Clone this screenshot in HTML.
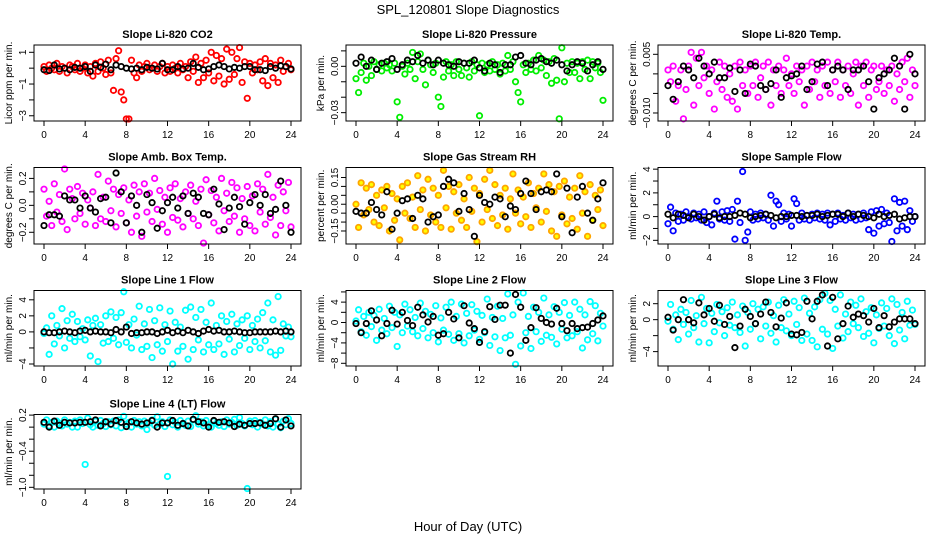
<!DOCTYPE html>
<html><head><meta charset="utf-8"><style>
html,body{margin:0;padding:0;background:#fff;}
svg{display:block;font-family:"Liberation Sans",sans-serif;}
</style></head><body>
<svg id="chart" width="936" height="540" viewBox="0 0 936 540" xmlns="http://www.w3.org/2000/svg">
<text x="468" y="14" text-anchor="middle" font-size="13">SPL_120801  Slope Diagnostics</text>
<text x="468" y="531" text-anchor="middle" font-size="13">Hour of Day (UTC)</text>
</svg>
<script>
const xTicks = [0,4,8,12,16,20,24];
const titles = ["Slope Li-820 CO2","Slope Li-820 Pressure","Slope Li-820 Temp.","Slope Amb. Box Temp.","Slope Gas Stream RH","Slope Sample Flow","Slope Line 1 Flow","Slope Line 2 Flow","Slope Line 3 Flow","Slope Line 4 (LT) Flow"];
const yTitles = ["Licor ppm per min.","kPa per min.","degrees C per min.","degrees C per min.","percent per min.","ml/min per min.","ml/min per min.","ml/min per min.","ml/min per min.","ml/min per min."];
const yRanges = [[-3.33,1.46],[-0.0354,0.0138],[-0.01205,0.00738],[-0.287,0.281],[-0.223,0.206],[-2.31,4.14],[-4.25,5.16],[-8.53,6.28],[-5.8,3.65],[-1.028,0.21]];
const yTicks = [[-3,-2,-1,0,1],[-0.03,-0.02,-0.01,0,0.01],[-0.01,-0.005,0,0.005],[-0.2,-0.1,0,0.1,0.2],[-0.15,-0.1,-0.05,0,0.05,0.1,0.15],[-2,-1,0,1,2,3,4],[-4,-2,0,2,4],[-8,-6,-4,-2,0,2,4,6],[-4,-2,0,2],[-1,-0.8,-0.6,-0.4,-0.2,0,0.2]];
const yTickLabels = [["−3","","−1","","1"],["−0.03","","","0.00",""],["−0.010","","","0.005"],["−0.2","","0.0","","0.2"],["−0.15","","","0.00","","","0.15"],["−2","","0","","2","","4"],["−4","","0","2","4"],["−8","","−4","","0","","4",""],["−4","","0","2"],["−1.0","","","−0.4","","","0.2"]];
const colors = ["#ff0000","#00ee00","#ff00ff","#ff00ff","#ffa500","#0000ff","#00ffff","#00ffff","#00ffff","#00ffff"];

const co2Main = [0.1,-0.2,0.2,0,-0.1,0.3,-0.2,0.1,0,-0.3,0.2,0.1,-0.1,0.3,-0.2,0,0.2,-0.3,0.1,-0.5,0.3,-0.2,0.4,0,-0.4,0.5,-0.3,-1.4,0.6,1.1,-1.5,-2.0,-3.2,-3.2,0.5,-0.3,-0.6,0.2,-0.2,0.1,0.3,-0.1,0,0.2,-0.2,0.1,0.3,-0.3,0.1,-0.2,0.2,0,-0.3,0.3,-0.1,0.1,-0.6,0.4,-0.2,0.7,-0.9,0.3,-0.6,0.5,-0.3,1.0,-0.8,0.8,-0.5,0.6,-1.0,1.2,-0.7,1.0,-0.4,0.6,1.3,-0.9,0.4,-1.9,0.3,-0.3,0.2,-0.1,0.4,-0.8,0.6,-1.1,0.3,-0.6,0.2,-0.9,0.5,-0.2,0.1,0.3,-0.1];
const co2Black = [-0.1,-0.15,0.2,-0.05,0,-0.1,0.05,0,0.1,-0.2,0.2,0.05,0.25,-0.1,0.2,0.1,0,-0.05,0,-0.1,0.05,0,-0.05,0.3,-0.1,-0.1,0.1,-0.05,0,0.3,0.05,-0.1,-0.05,0.1,0.2,0.1,-0.05,0.05,0,0.1,0.1,-0.1,-0.1,-0.15,0.1,0,0.15,0.1,-0.05];
const presMain = [-0.008,-0.017,-0.004,0.002,-0.009,0,-0.006,0.003,-0.002,0.001,-0.003,0.002,-0.001,0.001,-0.003,0.002,-0.023,-0.033,0,-0.005,0.002,-0.002,0.009,-0.008,0.003,0.008,-0.002,-0.012,0.004,0.001,-0.004,0.002,-0.020,-0.026,-0.007,0.003,-0.003,0.001,-0.006,0.003,-0.002,-0.006,0.002,-0.001,-0.007,0.003,-0.003,0.001,-0.032,0.002,-0.004,0.001,-0.003,0.003,-0.002,0.001,-0.005,0.002,-0.003,0.007,-0.002,0.003,-0.010,-0.017,-0.023,0.001,-0.004,0.002,-0.002,0.004,-0.003,0.007,-0.001,0.004,-0.006,0.003,-0.011,0.005,-0.009,-0.034,0.012,-0.010,0.002,-0.004,0.003,-0.004,0.002,-0.008,0.003,-0.002,0.004,-0.008,0.003,-0.001,0.002,-0.004,-0.022];
const presBlack = [0.002,0.006,0,0.004,-0.002,0.002,0.003,0.005,-0.002,0.001,0.004,0.003,0.007,0.002,0.004,0.001,0.004,0.002,0.001,0,0.003,0.002,0.002,0.004,-0.001,-0.003,0.002,0.001,-0.004,0.001,0.001,0.006,0.007,0.002,0.001,0.004,0.005,0.003,0.002,0.004,0.001,-0.003,0.001,0.003,0.002,-0.003,0.001,0.003,-0.002];
const tempMain = [0.001,-0.002,0.002,-0.007,-0.003,0.001,-0.0115,-0.004,0.002,0.0055,-0.008,0.004,-0.003,0.0055,-0.001,0.002,-0.005,0.001,-0.009,-0.002,0.003,-0.004,0.002,-0.006,0,-0.007,0.002,-0.009,0.003,-0.003,0.001,-0.005,0.002,-0.003,0.003,-0.006,-0.001,0.002,-0.004,0.003,-0.008,0.001,-0.003,0.002,-0.005,0.001,0.004,-0.003,0,-0.005,0.002,-0.002,0.001,-0.008,0.002,-0.004,0.003,-0.002,0.001,-0.006,0.002,-0.003,0.003,-0.005,0.001,-0.002,0.003,-0.006,0.001,-0.003,0.002,-0.005,0,0.003,-0.008,0.002,-0.003,0.003,-0.006,0.001,0.002,-0.004,-0.002,0.002,-0.005,0.001,-0.003,0.002,-0.007,0,-0.004,0.003,-0.002,0.004,-0.006,0.001,-0.003];
const tempBlack = [-0.003,-0.0065,-0.002,0.002,0.001,-0.001,0.004,0.002,0,0.003,-0.001,-0.001,0.0015,-0.0045,0.001,-0.005,0.0025,0.002,-0.003,-0.004,-0.0025,0.001,-0.006,-0.001,-0.0005,0,0.002,-0.004,-0.002,0.0025,0.003,-0.003,0.001,0.002,0.001,-0.004,0.001,0.001,0.002,-0.002,-0.009,-0.001,0,0.001,0.004,0.002,-0.009,0.005,0];
const ambMain = [0.12,-0.08,0.03,-0.15,0.16,-0.05,0.08,-0.12,0.27,-0.18,0.12,0.05,-0.1,0.14,-0.06,0.09,-0.14,0.04,-0.02,0.1,-0.15,0.23,-0.1,0.06,-0.12,0.18,-0.04,0.12,-0.16,0.08,-0.06,0.13,-0.13,0.04,-0.2,0.15,-0.08,0.1,-0.23,0.16,-0.05,0.09,-0.12,0.2,-0.03,0.11,-0.14,0.06,-0.2,0.13,-0.09,0.16,-0.11,0.05,-0.16,0.1,-0.06,0.15,-0.1,0.03,-0.15,0.12,-0.28,0.19,-0.07,0.11,-0.13,0.06,-0.19,0.2,-0.04,0.09,-0.12,0.17,-0.08,0.13,-0.2,0.05,-0.1,0.14,-0.15,0.07,-0.19,0.16,-0.05,0.12,-0.14,0.23,-0.09,0.06,-0.22,0.15,-0.15,0.1,-0.04,0.17,-0.16];
const ambBlack = [-0.15,-0.07,-0.07,-0.08,0.07,0.04,0.04,-0.02,0.07,-0.02,-0.05,0.05,0.06,-0.13,0.24,0.1,-0.13,0.07,0,-0.2,0.08,0.02,-0.17,-0.04,0.02,0.06,-0.02,0.07,-0.06,0.09,0.06,-0.06,-0.07,0.12,0.01,-0.18,-0.02,0.06,-0.01,-0.14,0.02,0.08,0,0.08,-0.06,-0.03,0.18,0,-0.2];
const rhMain = [0.0,-0.13,0.12,-0.06,0.09,-0.03,0.11,-0.1,0.05,-0.12,0.08,-0.02,0.1,-0.15,0.06,-0.09,0.03,-0.2,0.1,-0.05,0.12,-0.08,0.04,-0.13,0.16,-0.03,0.08,-0.15,0.14,-0.06,0.09,-0.1,0.05,-0.13,0.19,-0.02,0.1,-0.14,0.07,-0.05,0.11,-0.09,0.03,-0.13,0.15,-0.04,0.09,-0.21,0.06,-0.1,0.14,-0.03,0.19,-0.08,0.11,-0.12,0.05,-0.06,0.09,-0.14,0.03,0.17,-0.05,0.08,-0.11,0.04,-0.07,0.12,-0.13,0.06,-0.02,0.09,-0.1,0.17,-0.04,0.11,-0.15,0.07,-0.18,0.1,-0.06,0.13,-0.11,0.04,-0.08,0.09,-0.14,0.16,-0.05,0.07,-0.18,0.11,-0.09,0.05,-0.03,0.08,-0.12];
const rhBlack = [-0.04,-0.05,-0.05,0.01,-0.03,-0.06,0.07,-0.14,-0.05,0.02,0.03,-0.08,0.05,0.03,-0.1,-0.07,-0.06,0.1,0.14,0.12,-0.04,0.06,-0.03,-0.18,0.05,0.01,0,0.04,0.03,-0.07,-0.01,-0.03,0.06,0.13,0.06,-0.03,0.07,0.08,0.07,0.17,-0.07,0.09,-0.16,0.04,0.1,-0.05,-0.09,0.03,0.12];
const sampMain = [-0.6,0.8,-1.2,0.3,-0.4,0.2,-0.3,0.4,0,-0.2,0.3,-0.1,0.2,-0.3,0.4,-0.5,0,-0.7,0.3,1.3,-0.2,0.4,-0.3,0.5,-0.4,0.6,-1.9,1.3,-0.5,3.8,-2.0,-1.3,0.4,-0.3,0.2,-0.2,0.3,-0.1,0.2,-0.3,1.8,-0.8,1.3,1.0,-0.4,0.3,-0.2,0.2,-0.8,1.5,1.1,-0.3,0.3,-0.2,0.1,-0.3,0.2,-0.1,0.3,-0.2,0.2,-0.3,0.3,-0.7,0.2,-0.4,0.3,-0.2,0.1,-0.3,0.3,-0.1,0.2,-0.3,0.2,-0.2,0.3,-0.1,-1.1,0.4,-1.4,0.5,-0.8,0.6,-0.6,0.3,-0.5,-2.1,1.5,-1.2,1.2,-0.8,1.3,-1.1,0.5,-0.4,0];
const sampBlack = [0.2,-0.1,0.2,0.1,-0.1,0.2,0,-0.3,0,0.2,-0.1,0,0,0.1,0.3,0.2,-0.1,0,0.1,0.2,0.1,-0.1,0,0,0.1,0.1,0,0.1,0.1,0.2,0,0.1,0.2,0.2,0,0.3,0,0.2,0.1,0,-0.1,0.2,0,0.1,0.2,-0.2,-0.1,0,0];
const l1Main = [-0.2,0.5,-2.8,2.0,-1.5,0.8,-0.5,2.9,-2.0,1.4,-0.8,2.2,-1.2,1.3,-0.6,0.4,-1.0,1.5,-3.0,0.8,1.7,-3.7,0.9,-1.4,2.0,-1.2,2.5,-0.8,1.8,-1.6,2.4,5.0,-1.3,0.9,-2.0,1.6,-0.4,3.2,-2.2,1.0,-1.8,2.8,-3.2,1.4,-1.6,3.0,-2.4,0.9,-1.2,2.6,-4.0,1.2,-2.4,0.6,-1.8,2.7,-3.4,3.1,-2.2,1.8,-1.0,2.8,-2.5,1.2,-1.6,3.6,-2.2,0.8,-1.5,2.0,-2.8,1.3,-0.9,2.2,-2.5,1.0,-1.7,1.5,-0.8,2.0,-2.2,0.8,-1.2,1.6,-2.0,2.4,-1.1,3.6,-2.5,1.5,-2.9,4.4,-2.3,1.0,-0.5,0.6,-0.6];
const l1Black = [0,-0.1,-0.1,0,0.1,0,-0.1,0.1,0.2,0,0.1,0,0,-0.1,0.3,0,0.6,-0.2,-0.1,-0.1,0,0,-0.2,0,0.2,-0.1,0.1,-0.1,0.2,0,-0.2,0.1,0.3,0.1,0.2,0,0,0.1,0,-0.1,-0.1,0,0,0,0,0.1,0,0.1,0];
const l2Main = [0.3,2.5,-1.8,1.2,-2.5,2.0,-0.8,1.4,-3.5,2.6,-1.5,0.8,-2.2,3.2,-1.0,2.0,-4.7,1.5,-2.0,3.6,-0.7,2.5,-1.8,1.0,-2.6,3.8,-1.2,2.2,-3.0,1.6,-2.0,3.3,-3.8,0.9,-1.5,3.0,-2.3,4.0,-3.5,1.2,-2.2,3.6,-4.0,1.8,-2.6,3.5,-1.5,2.2,-3.3,1.4,-2.0,4.6,-4.5,1.0,-2.8,3.2,-5.5,0.8,-3.0,5.6,-2.5,1.5,-8.2,4.0,-4.6,5.8,-2.0,1.2,-5.1,3.0,-1.8,2.0,-3.7,4.8,-2.5,1.5,-2.9,3.1,-4.2,2.0,-1.3,3.9,-3.0,1.4,-2.6,4.0,-1.8,2.6,-5.0,1.5,-3.4,4.1,-2.2,3.3,-3.6,1.8,-0.7];
const l2Black = [-0.2,-2.0,-0.2,2.3,0.5,-2.6,-0.2,2.4,-0.3,2.0,0.4,-0.6,3.0,1.5,0.1,1.2,-2.5,-2.2,2.0,0.7,-3.0,3.3,-0.1,-1.2,-3.9,-1.8,3.1,0.6,3.4,3.4,-6.0,5.5,3.0,-3.5,-1.0,2.9,0.8,0,-0.3,2.8,-0.2,-1.6,-0.2,-1.2,-1.0,-0.9,-0.2,0.5,1.3];
const l3Main = [-0.2,1.9,-1.2,0.6,-2.5,1.3,-0.6,0.9,-1.8,2.4,-1.0,0.5,-2.8,2.8,-0.5,1.4,-2.9,0.8,-1.5,1.9,-0.4,1.0,-2.0,1.5,-0.7,2.2,-1.0,0.6,-1.6,1.7,-3.3,0.9,-1.2,2.0,-0.5,1.3,-2.4,1.6,-0.8,2.2,-1.7,0.5,-2.8,1.8,-1.0,2.5,-1.4,0.7,-2.0,2.3,-0.6,1.5,-2.6,2.7,-1.8,0.8,-2.6,1.6,-3.4,2.5,-1.2,3.3,-1.8,2.4,-3.6,1.3,-0.8,3.1,-2.3,0.7,-1.5,2.2,-0.5,1.8,-1.0,2.6,-2.1,1.0,-1.7,1.5,-2.9,0.6,-1.1,2.1,-0.8,1.4,-2.0,2.6,-3.0,1.9,-1.3,0.9,-2.4,2.3,-0.7,1.2,-0.6];
const l3Black = [0.3,-1.3,0,2.5,0,-0.4,2.1,0.6,1.4,-0.2,1.8,-0.6,0.4,-3.5,-0.8,1.3,0.4,-0.5,0.7,2.2,0.9,-0.9,0.2,2.1,-1.8,-1.9,-1.6,2.3,0.1,2.3,3.1,-3.3,2.8,-2.4,-0.5,1.7,0.3,0.7,0.5,-0.3,1.4,-1.0,0.5,-0.9,-0.3,0.1,0.1,0.1,-0.5];
const l4Main = [0.05,0.12,0.02,0.08,0.0,0.1,0.06,0.02,0.12,0.05,0.08,0.0,0.1,0.0,0.12,0.06,-0.62,0.15,0.04,0.0,0.1,0.03,0.11,0.06,0.01,0.09,0.04,0.1,0.02,0.12,-0.01,0.18,0.05,0.08,0.0,0.11,0.05,0.09,0.02,0.1,-0.04,0.07,0.12,0.03,0.17,0.05,0.09,0.01,-0.82,0.12,0.04,0.08,0.0,0.11,0.06,0.03,0.1,0.01,0.12,0.19,0.05,0.09,0.02,0.11,0.04,0.0,0.1,0.06,0.03,0.09,0.01,0.12,0.05,0.08,0.13,0.03,0.16,0.06,0.02,-1.02,0.1,0.04,0.11,0.0,0.08,0.05,0.12,0.02,0.09,0.0,0.13,0.05,-0.01,0.1,0.04,0.14,0.06];
const l4Black = [0.08,0.0,0.1,0.03,0.08,0.07,0.07,0.08,0.08,0.09,0.12,0.02,0.09,0.05,0.11,0.08,0.01,0.09,0.07,0.05,0.07,0.11,0.0,0.07,0.07,0.11,0.03,0.06,0.02,0.13,0.09,0.07,0.0,0.11,0.08,0.09,0.07,0.01,0.05,0.03,0.06,0.06,0.07,0.03,0.06,0.14,0.0,0.12,0.02];

const mainSeries = [co2Main,presMain,tempMain,ambMain,rhMain,sampMain,l1Main,l2Main,l3Main,l4Main];
const blackSeries = [co2Black,presBlack,tempBlack,ambBlack,rhBlack,sampBlack,l1Black,l2Black,l3Black,l4Black];

const NS = "http://www.w3.org/2000/svg";
const svg = document.getElementById('chart');
function mk(tag, attrs, parent){const e=document.createElementNS(NS,tag);for(const k in attrs)e.setAttribute(k,attrs[k]);(parent||svg).appendChild(e);return e;}
const boxTops=[45,167.5,290.5,414.5], boxBots=[121,244,366,489];
for(let p=0;p<10;p++){
  const col=p%3,row=Math.floor(p/3);
  const L=34+col*312,R=301+col*312,T=boxTops[row],B=boxBots[row];
  const g=mk('g',{});
  
  
  const xs=v=>L+10+(v/24)*(R-L-20);
  const [y0,y1]=yRanges[p];
  const ys=v=>B-(v-y0)/(y1-y0)*(B-T);
  const t=mk('text',{x:(L+R)/2,y:T-7,'text-anchor':'middle','font-size':'11','font-weight':'bold'},g);
  t.textContent=titles[p];
  
  
  const yt=mk('text',{x:0,y:0,'text-anchor':'middle','font-size':'10',transform:`translate(${L-22},${(T+B)/2}) rotate(-90)`},g);
  yt.textContent=yTitles[p];
  
  
  const gp=mk('g',{},g);
  
  
  const m=mainSeries[p];
  m.forEach((v,i)=>{
    const c=mk('circle',{cx:xs(i*24/(m.length-1)),cy:ys(v),r:2.7,fill:p===4?'#ffff00':'none',stroke:colors[p],'stroke-width':1.8},gp);
    
    
  });
  const gb=mk('g',{},g);
  
  
  const bl=blackSeries[p];
  bl.forEach((v,i)=>{
    const c=mk('circle',{cx:xs(i*24/(bl.length-1)),cy:ys(v),r:2.7,fill:'none',stroke:'#000','stroke-width':1.8},gb);
    
    
  });
  const box=mk('rect',{x:L,y:T,width:R-L,height:B-T,fill:'none',stroke:'#000','stroke-width':1},g);
  
  
  const xa=mk('g',{},g);
  
  
  mk('line',{x1:xs(0),x2:xs(24),y1:B,y2:B,stroke:'#000'},xa);
  xTicks.forEach(v=>{
    mk('line',{x1:xs(v),x2:xs(v),y1:B,y2:B+5,stroke:'#000'},xa);
    const tx=mk('text',{x:xs(v),y:B+17,'text-anchor':'middle','font-size':'10'},xa);
    tx.textContent=String(v);
    
    
  });
  const ya=mk('g',{},g);
  
  
  const tk=yTicks[p];
  mk('line',{x1:L,x2:L,y1:ys(tk[0]),y2:ys(tk[tk.length-1]),stroke:'#000'},ya);
  tk.forEach((v,i)=>{
    mk('line',{x1:L-5,x2:L,y1:ys(v),y2:ys(v),stroke:'#000'},ya);
    const lab=yTickLabels[p][i];
    if(!lab) return;
    const tx=mk('text',{x:0,y:0,'text-anchor':'middle','font-size':'10',transform:`translate(${L-8},${ys(v)}) rotate(-90)`},ya);
    tx.textContent=lab;
    
    
  });
}
</script>
</body></html>
